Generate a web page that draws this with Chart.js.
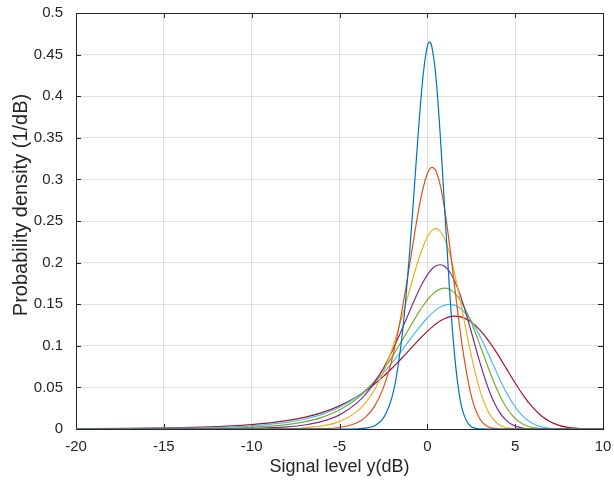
<!DOCTYPE html>
<html>
<head>
<meta charset="utf-8">
<script src="https://cdn.jsdelivr.net/npm/chart.js@4.4.1/dist/chart.umd.min.js"></script>
<style>
  html, body { margin: 0; padding: 0; background: #fff; }
  #wrap { width: 614px; height: 481px; }
</style>
</head>
<body>
<div id="wrap"><canvas id="pdfChart" width="614" height="481"></canvas></div>
<script>
// signal level in dB (x positions)
const signalDb = [-20, -17, -14, -12, -10, -8, -7, -6, -5, -4, -3.5, -3, -2.5, -2, -1.75, -1.5, -1.25, -1, -0.75, -0.5, -0.25,
  0, 0.125, 0.25, 0.5, 0.75, 1, 1.25, 1.5, 1.75, 2, 2.5, 3, 3.5, 4, 4.5, 5, 5.5, 6, 6.5, 7, 7.5, 8, 9, 10];

// probability density (1/dB), one array per curve, narrowest first
const blueCurve = [0, 0, 0, 0, 0, 0, 0, 0, 0, 0.0003, 0.0010, 0.0039, 0.0131, 0.0393, 0.0643, 0.1009, 0.1509, 0.2142, 0.2870, 0.3607, 0.4231,
  0.4599, 0.4650, 0.4602, 0.4207, 0.3486, 0.2596, 0.1723, 0.1008, 0.0515, 0.0227, 0.0027, 0.0002, 0, 0, 0, 0, 0, 0, 0, 0, 0, 0, 0, 0];
const orangeCurve = [0, 0, 0, 0, 0, 0, 0.0001, 0.0004, 0.0018, 0.0075, 0.0146, 0.0275, 0.0497, 0.0849, 0.1083, 0.1355, 0.1659, 0.1986, 0.2316, 0.2627, 0.2888,
  0.3070, 0.3122, 0.3145, 0.3096, 0.2917, 0.2621, 0.2237, 0.1806, 0.1373, 0.0978, 0.0399, 0.0118, 0.0024, 0.0003, 0, 0, 0, 0, 0, 0, 0, 0, 0, 0];
const yellowCurve = [0, 0, 0, 0, 0.0001, 0.0006, 0.0015, 0.0037, 0.0089, 0.0212, 0.0320, 0.0475, 0.0687, 0.0965, 0.1127, 0.1302, 0.1487, 0.1677, 0.1862, 0.2037, 0.2188,
  0.2308, 0.2352, 0.2384, 0.2408, 0.2372, 0.2276, 0.2122, 0.1917, 0.1674, 0.1409, 0.0884, 0.0461, 0.0194, 0.0064, 0.0016, 0.0003, 0, 0, 0, 0, 0, 0, 0, 0];
const purpleCurve = [0, 0, 0.0001, 0.0003, 0.0008, 0.0026, 0.0048, 0.0091, 0.0170, 0.0314, 0.0422, 0.0560, 0.0731, 0.0937, 0.1051, 0.1171, 0.1294, 0.1419, 0.1542, 0.1658, 0.1763,
  0.1852, 0.1889, 0.1920, 0.1963, 0.1974, 0.1953, 0.1896, 0.1804, 0.1680, 0.1528, 0.1169, 0.0795, 0.0472, 0.0239, 0.0101, 0.0034, 0.0009, 0.0002, 0, 0, 0, 0, 0, 0];
const greenCurve = [0.0001, 0.0002, 0.0004, 0.0009, 0.0021, 0.0053, 0.0086, 0.0140, 0.0228, 0.0367, 0.0462, 0.0578, 0.0714, 0.0870, 0.0955, 0.1042, 0.1132, 0.1223, 0.1312, 0.1398, 0.1478,
  0.1549, 0.1581, 0.1609, 0.1655, 0.1684, 0.1693, 0.1680, 0.1645, 0.1586, 0.1504, 0.1282, 0.1007, 0.0719, 0.0460, 0.0259, 0.0126, 0.0052, 0.0018, 0.0005, 0.0001, 0, 0, 0, 0];
const cyanCurve = [0.0002, 0.0004, 0.0010, 0.0018, 0.0037, 0.0079, 0.0117, 0.0175, 0.0261, 0.0388, 0.0470, 0.0565, 0.0675, 0.0798, 0.0864, 0.0932, 0.1002, 0.1072, 0.1142, 0.1210, 0.1274,
  0.1334, 0.1362, 0.1387, 0.1432, 0.1467, 0.1489, 0.1498, 0.1491, 0.1468, 0.1428, 0.1299, 0.1113, 0.0888, 0.0655, 0.0440, 0.0265, 0.0141, 0.0065, 0.0026, 0.0008, 0.0002, 0, 0, 0];
const redCurve = [0.0003, 0.0007, 0.0016, 0.0028, 0.0052, 0.0100, 0.0140, 0.0197, 0.0278, 0.0391, 0.0461, 0.0541, 0.0632, 0.0733, 0.0786, 0.0841, 0.0898, 0.0955, 0.1012, 0.1068, 0.1122,
  0.1174, 0.1198, 0.1221, 0.1264, 0.1300, 0.1328, 0.1347, 0.1356, 0.1354, 0.1342, 0.1286, 0.1188, 0.1057, 0.0900, 0.0726, 0.0553, 0.0393, 0.0259, 0.0156, 0.0087, 0.0044, 0.0020, 0.0003, 0];

const curveNames = ['curve 1', 'curve 2', 'curve 3', 'curve 4', 'curve 5', 'curve 6', 'curve 7'];
const curveColors = ['#0072BD', '#D95319', '#EDB120', '#7E2F8E', '#77AC30', '#4DBEEE', '#A2142F'];
const curves = [blueCurve, orangeCurve, yellowCurve, purpleCurve, greenCurve, cyanCurve, redCurve];

const xTicks = [-20, -15, -10, -5, 0, 5, 10];
const yTicks = [0, 0.05, 0.1, 0.15, 0.2, 0.25, 0.3, 0.35, 0.4, 0.45, 0.5];
const yTitle = 'Probability density (1/dB)';

const axisColor = '#262626';
const fontFamily = "'Liberation Sans', Arial, Helvetica, sans-serif";

// matlab style box with inward ticks, plus the y label (sits a bit above centre in the original)
const matlabBox = {
  id: 'matlabBox',
  beforeDatasetsDraw(chart) {
    const ctx = chart.ctx;
    const a = chart.chartArea;
    const xs = chart.scales.x;
    const ys = chart.scales.y;
    const len = 5;
    ctx.save();
    ctx.strokeStyle = axisColor;
    ctx.lineWidth = 1;
    ctx.beginPath();
    xTicks.forEach(t => {
      const px = Math.round(xs.getPixelForValue(t)) + 0.5;
      ctx.moveTo(px, a.bottom); ctx.lineTo(px, a.bottom - len);
      ctx.moveTo(px, a.top); ctx.lineTo(px, a.top + len);
    });
    yTicks.forEach(t => {
      const py = Math.round(ys.getPixelForValue(t)) + 0.5;
      ctx.moveTo(a.left, py); ctx.lineTo(a.left + len, py);
      ctx.moveTo(a.right, py); ctx.lineTo(a.right - len, py);
    });
    ctx.stroke();
    ctx.strokeRect(Math.round(a.left) + 0.5, Math.round(a.top) + 0.5, Math.round(a.right - a.left), Math.round(a.bottom - a.top));

    ctx.translate(21, 205);
    ctx.rotate(-Math.PI / 2);
    ctx.fillStyle = axisColor;
    ctx.font = '20px ' + fontFamily;
    ctx.textAlign = 'center';
    ctx.textBaseline = 'middle';
    ctx.fillText(yTitle, 0, 0);
    ctx.restore();
  }
};

const datasets = curves.map((ys, i) => ({
  label: curveNames[i],
  data: signalDb.map((x, j) => ({ x: x, y: ys[j] })),
  borderColor: curveColors[i],
  backgroundColor: curveColors[i],
  borderWidth: 1.2,
  pointRadius: 0,
  fill: false,
  cubicInterpolationMode: 'monotone'
}));

new Chart(document.getElementById('pdfChart').getContext('2d'), {
  type: 'line',
  data: { datasets: datasets },
  options: {
    responsive: false,
    animation: false,
    devicePixelRatio: 1,
    layout: { padding: { top: 13, right: 11, left: 0, bottom: 0 } },
    plugins: { legend: { display: false }, tooltip: { enabled: false } },
    scales: {
      x: {
        type: 'linear',
        min: -20,
        max: 10,
        afterBuildTicks: s => { s.ticks = xTicks.map(v => ({ value: v })); },
        ticks: { color: axisColor, font: { family: fontFamily, size: 15 }, padding: 9, maxRotation: 0 },
        grid: { color: '#e0e0e0', drawTicks: false, tickLength: 0 },
        border: { display: false },
        title: { display: true, text: 'Signal level y(dB)', color: axisColor, font: { family: fontFamily, size: 18 }, padding: { top: 0, bottom: 3 } },
        afterFit: s => { s.height = 52; s.paddingLeft = 0; s.paddingRight = 0; }
      },
      y: {
        type: 'linear',
        min: 0,
        max: 0.5,
        afterBuildTicks: s => { s.ticks = yTicks.map(v => ({ value: v })); },
        ticks: { color: axisColor, font: { family: fontFamily, size: 15 }, padding: 13, callback: v => String(+v.toFixed(2)) },
        grid: { color: '#e0e0e0', drawTicks: false, tickLength: 0 },
        border: { display: false },
        afterFit: s => { s.width = 76; s.paddingTop = 0; s.paddingBottom = 0; }
      }
    }
  },
  plugins: [matlabBox]
});
</script>
</body>
</html>
